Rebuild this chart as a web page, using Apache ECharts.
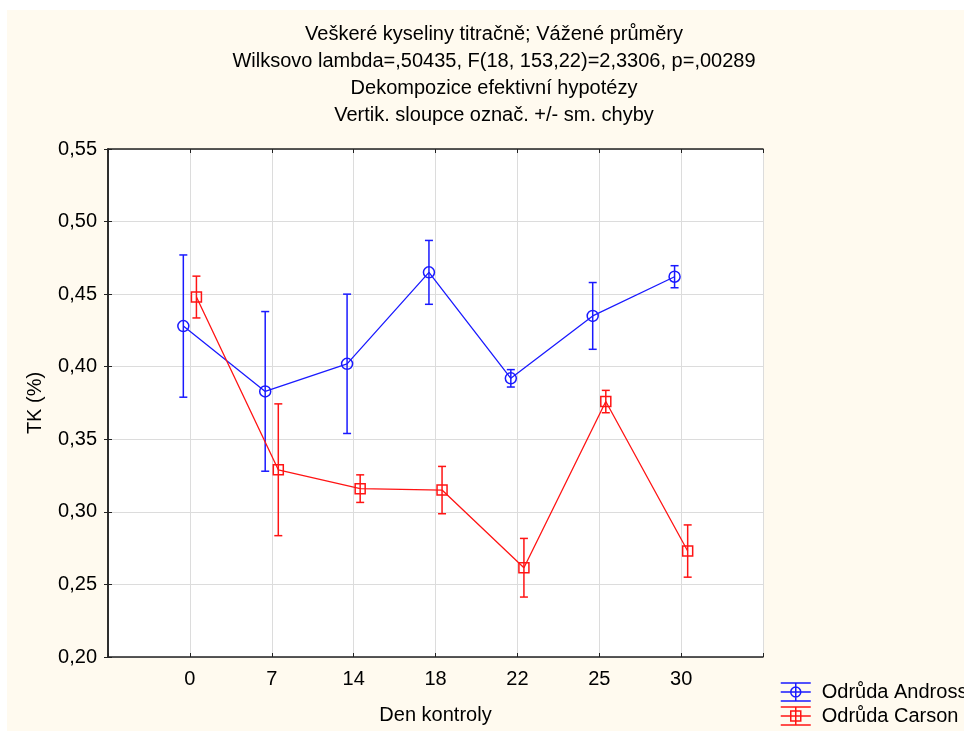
<!DOCTYPE html>
<html>
<head>
<meta charset="utf-8">
<script src="https://cdn.jsdelivr.net/npm/echarts@6/dist/echarts.min.js"></script>
<style>
  html, body { margin: 0; padding: 0; background: #fff; }
  #chart { width: 964px; height: 731px; }
</style>
</head>
<body>
<div id="chart"></div>
<script>
// dny kontroly
var days = ['0', '7', '14', '18', '22', '25', '30'];
// Odrůda Andross - průměry a sm. chyby
var androssMean = [0.428, 0.383, 0.402, 0.465, 0.392, 0.435, 0.462];
var androssErr = [0.049, 0.055, 0.048, 0.022, 0.006, 0.023, 0.0076];
// Odrůda Carson
var carsonMean = [0.448, 0.329, 0.316, 0.315, 0.2615, 0.376, 0.273];
var carsonErr = [0.0144, 0.0454, 0.0095, 0.0163, 0.0202, 0.0077, 0.018];
var yTicks = { min: 0.20, max: 0.55, step: 0.05 };

var blue = '#1a1aff';
var red = '#ff1414';
var shift = 0.08;

function points(means, dx) {
	return means.map(function (v, i) { return [i + 1 + dx, v]; });
}
function bars(means, errs, dx) {
	return means.map(function (v, i) { return [i + 1 + dx, v - errs[i], v + errs[i]]; });
}
function errorBar(color) {
	return function (params, api) {
		var x = api.value(0);
		var lo = api.coord([x, api.value(1)]);
		var hi = api.coord([x, api.value(2)]);
		var w = 4;
		var st = { stroke: color, lineWidth: 1.5 };
		return {
			type: 'group',
			children: [
				{ type: 'line', shape: { x1: hi[0], y1: hi[1], x2: lo[0], y2: lo[1] }, style: st },
				{ type: 'line', shape: { x1: hi[0] - w, y1: hi[1], x2: hi[0] + w, y2: hi[1] }, style: st },
				{ type: 'line', shape: { x1: lo[0] - w, y1: lo[1], x2: lo[0] + w, y2: lo[1] }, style: st }
			]
		};
	};
}
var iconCircle = 'path://M0 1H30M0 10H30M0 19H30M15 1V19M20 10A5 5 0 1 1 10 10A5 5 0 1 1 20 10';
var iconRect = 'path://M0 1H30M0 10H30M0 19H30M15 1V19M10 5H20V15H10Z';

var chart = echarts.init(document.getElementById('chart'));
chart.setOption({
	backgroundColor: '#fff',
	textStyle: { fontFamily: 'Liberation Sans, Arial, sans-serif', color: '#000' },
	graphic: [{
		type: 'rect', left: 7, top: 10, z: -10,
		shape: { width: 957, height: 721 },
		style: { fill: '#fffaef' }
	}],
	title: {
		text: 'Veškeré kyseliny titračně; Vážené průměry\nWilksovo lambda=,50435, F(18, 153,22)=2,3306, p=,00289\nDekompozice efektivní hypotézy\nVertik. sloupce označ. +/- sm. chyby',
		left: 494,
		top: 21,
		padding: 0,
		textAlign: 'center',
		textStyle: { fontSize: 20, fontWeight: 'normal', lineHeight: 27, color: '#000' }
	},
	legend: {
		orient: 'vertical',
		left: 780,
		top: 682,
		padding: 0,
		itemWidth: 30,
		itemHeight: 20,
		itemGap: 4,
		selectedMode: false,
		textStyle: { fontSize: 20, color: '#000', padding: [0, 0, 0, 6] },
		data: [
			{ name: 'Odrůda Andross', icon: iconCircle, itemStyle: { color: 'rgba(0,0,0,0)', borderColor: blue, borderWidth: 1.5 } },
			{ name: 'Odrůda Carson', icon: iconRect, itemStyle: { color: 'rgba(0,0,0,0)', borderColor: red, borderWidth: 1.5 } }
		]
	},
	grid: {
		left: 108, top: 149, right: 201, bottom: 74,
		show: true, backgroundColor: '#fff', borderWidth: 0
	},
	xAxis: [{
		type: 'value', min: 0, max: days.length + 1, interval: 1,
		name: 'Den kontroly', nameLocation: 'middle', nameGap: 48,
		nameTextStyle: { fontSize: 20 },
		axisLine: { lineStyle: { color: '#222', width: 1.5 } },
		axisTick: { inside: true, length: 4, lineStyle: { color: '#222' } },
		axisLabel: {
			fontSize: 20, color: '#000', margin: 12,
			formatter: function (v) { return days[v - 1] || ''; }
		},
		splitLine: { lineStyle: { color: '#dcdcdc' } }
	}, {
		type: 'value', position: 'top', min: 0, max: days.length + 1, interval: 1,
		axisLine: { lineStyle: { color: '#222', width: 1.5 } },
		axisTick: { inside: true, length: 4, lineStyle: { color: '#222' } },
		axisLabel: { show: false },
		splitLine: { show: false }
	}],
	yAxis: [{
		type: 'value', min: yTicks.min, max: yTicks.max, interval: yTicks.step,
		name: 'TK (%)', nameLocation: 'middle', nameGap: 63, nameRotate: 90,
		nameTextStyle: { fontSize: 20 },
		axisLine: { show: true, lineStyle: { color: '#222', width: 1.5 } },
		axisTick: { show: true, inside: true, length: 4, lineStyle: { color: '#222' } },
		axisLabel: {
			fontSize: 20, color: '#000', margin: 11,
			formatter: function (v) { return v.toFixed(2).replace('.', ','); }
		},
		splitLine: { lineStyle: { color: '#dcdcdc' } }
	}, {
		type: 'value', position: 'right', min: yTicks.min, max: yTicks.max, interval: yTicks.step,
		axisLine: { show: true, lineStyle: { color: '#222', width: 1.5 } },
		axisTick: { show: true, inside: true, length: 4, lineStyle: { color: '#222' } },
		axisLabel: { show: false },
		splitLine: { show: false }
	}],
	series: [
		{
			type: 'custom', silent: true,
			renderItem: errorBar(blue),
			encode: { x: 0, y: [1, 2] },
			data: bars(androssMean, androssErr, -shift)
		},
		{
			type: 'custom', silent: true,
			renderItem: errorBar(red),
			encode: { x: 0, y: [1, 2] },
			data: bars(carsonMean, carsonErr, shift)
		},
		{
			name: 'Odrůda Andross', type: 'line',
			data: points(androssMean, -shift),
			symbol: 'circle', symbolSize: 11,
			lineStyle: { color: blue, width: 1.3 },
			itemStyle: { color: 'rgba(0,0,0,0)', borderColor: blue, borderWidth: 1.5 },
			z: 3
		},
		{
			name: 'Odrůda Carson', type: 'line',
			data: points(carsonMean, shift),
			symbol: 'rect', symbolSize: 10,
			lineStyle: { color: red, width: 1.3 },
			itemStyle: { color: 'rgba(0,0,0,0)', borderColor: red, borderWidth: 1.5 },
			z: 3
		}
	],
	animation: false
});
</script>
</body>
</html>
